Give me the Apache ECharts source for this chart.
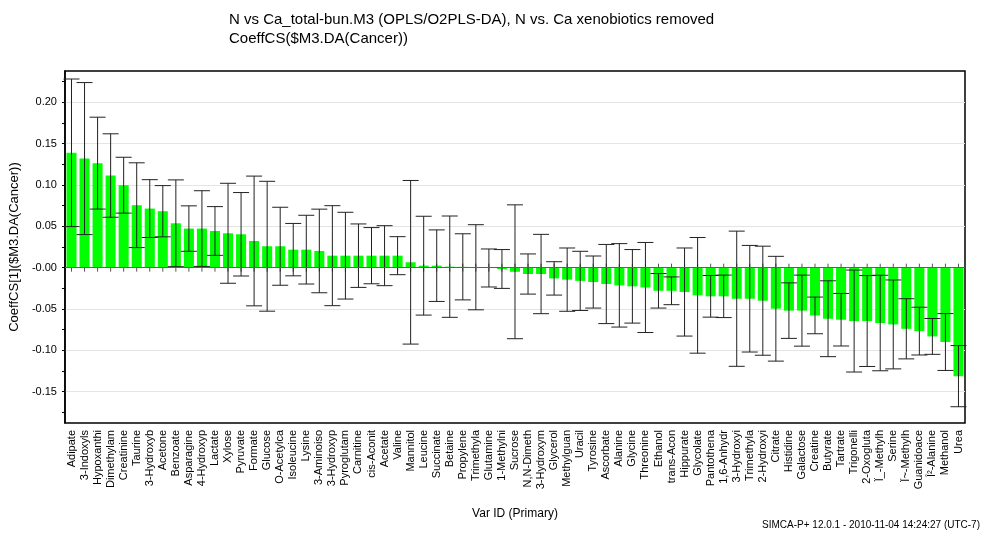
<!DOCTYPE html>
<html>
<head>
<meta charset="utf-8">
<script src="https://cdn.jsdelivr.net/npm/echarts@6/dist/echarts.min.js"></script>
<style>
  html, body { margin: 0; padding: 0; background: #fff; }
  #chart { width: 985px; height: 535px; }
</style>
</head>
<body>
<div id="chart"></div>
<script>
// Variable IDs (primary), sorted by coefficient
const varNames = [
  'Adipate', '3-Indoxyls', 'Hypoxanthi', 'Dimethylam', 'Creatinine', 'Taurine', '3-Hydroxyb', 'Acetone',
  'Benzoate', 'Asparagine', '4-Hydroxyp', 'Lactate', 'Xylose', 'Pyruvate', 'Formate', 'Glucose',
  'O-Acetylca', 'Isoleucine', 'Lysine', '3-Aminoiso', '3-Hydroxyp', 'Pyroglutam', 'Carnitine', 'cis-Aconit',
  'Acetate', 'Valine', 'Mannitol', 'Leucine', 'Succinate', 'Betaine', 'Propylene', 'Trimethyla',
  'Glutamine', '1-Methylni', 'Sucrose', 'N,N-Dimeth', '3-Hydroxym', 'Glycerol', 'Methylguan', 'Uracil',
  'Tyrosine', 'Ascorbate', 'Alanine', 'Glycine', 'Threonine', 'Ethanol', 'trans-Acon', 'Hippurate',
  'Glycolate', 'Pantothena', '1,6-Anhydr', '3-Hydroxyi', 'Trimethyla', '2-Hydroxyi', 'Citrate', 'Histidine',
  'Galactose', 'Creatine', 'Butyrate', 'Tartrate', 'Trigonelli', '2-Oxogluta', 'Ï_-Methylh', 'Serine',
  'Ï~-Methylh', 'Guanidoace', 'Î²-Alanine', 'Methanol', 'Urea'
];

// CoeffCS[1] for the Cancer class
const coeffCS = [
  0.139, 0.132, 0.1265, 0.1115, 0.0998, 0.0756, 0.0715, 0.0683, 0.0537, 0.0473,
  0.0473, 0.0444, 0.0416, 0.0404, 0.0323, 0.0259, 0.0259, 0.0218, 0.0218, 0.0202,
  0.0145, 0.0145, 0.0145, 0.0145, 0.0145, 0.0145, 0.0065, 0.0024, 0.0024, 0.0012,
  0.001, 0.0005, -0.0004, -0.0016, -0.005, -0.0077, -0.0077, -0.013, -0.0145, -0.016,
  -0.0174, -0.0198, -0.0214, -0.0226, -0.024, -0.028, -0.028, -0.0295, -0.0335, -0.0347,
  -0.0347, -0.0376, -0.0376, -0.040, -0.0497, -0.052, -0.052, -0.0578, -0.0618, -0.063,
  -0.0646, -0.0646, -0.067, -0.0687, -0.074, -0.0768, -0.0832, -0.090, -0.1313
];

// Confidence interval half-widths (jack-knifed)
const ciHalf = [
  0.0893, 0.092, 0.0556, 0.0505, 0.0338, 0.0513, 0.035, 0.031, 0.0525, 0.0275,
  0.0458, 0.0295, 0.0605, 0.0505, 0.0785, 0.0786, 0.0472, 0.0317, 0.0416, 0.0506,
  0.0605, 0.0525, 0.0384, 0.034, 0.0363, 0.023, 0.099, 0.0598, 0.0433, 0.0613,
  0.040, 0.0515, 0.023, 0.0235, 0.081, 0.0243, 0.048, 0.0202, 0.0383, 0.0358,
  0.0315, 0.0479, 0.0505, 0.0445, 0.0545, 0.0209, 0.0168, 0.0533, 0.070, 0.0252,
  0.0257, 0.0818, 0.0645, 0.066, 0.0634, 0.0336, 0.043, 0.0222, 0.0459, 0.0318,
  0.0617, 0.055, 0.0578, 0.0538, 0.0364, 0.0289, 0.0217, 0.0344, 0.037
];

// Y axis: tick marks, labelled ticks and grid lines
const yTickValues = [-0.175, -0.15, -0.125, -0.1, -0.075, -0.05, -0.025, 0, 0.025, 0.05, 0.075, 0.1, 0.125, 0.15, 0.175, 0.2, 0.225];
const yLabelValues = [-0.15, -0.1, -0.05, 0, 0.05, 0.1, 0.15, 0.2];
const yGridValues = [-0.15, -0.1, -0.05, 0, 0.05, 0.1, 0.15, 0.2];
const yMin = -0.188;
const yMax = 0.238;

const titleLines = 'N vs Ca_total-bun.M3 (OPLS/O2PLS-DA), N vs. Ca xenobiotics removed\nCoeffCS($M3.DA(Cancer))';
const footerText = 'SIMCA-P+ 12.0.1 - 2010-11-04 14:24:27 (UTC-7)';
const yName = 'CoeffCS[1]($M3.DA(Cancer))';
const xName = 'Var ID (Primary)';

const FONT = '"Liberation Sans", Arial, sans-serif';

const errData = coeffCS.map((v, i) => [i, v - ciHalf[i], v + ciHalf[i]]);
const tickData = coeffCS.map((v, i) => [i, 0]);

const chart = echarts.init(document.getElementById('chart'), null, { renderer: 'canvas' });

chart.setOption({
  animation: false,
  backgroundColor: '#ffffff',
  title: [
    {
      text: titleLines,
      left: 224,
      top: 5,
      textStyle: { fontFamily: FONT, fontSize: 15, fontWeight: 'normal', color: '#000', lineHeight: 19 }
    },
    {
      text: footerText,
      right: 0,
      bottom: 0,
      textStyle: { fontFamily: FONT, fontSize: 10, fontWeight: 'normal', color: '#000' }
    }
  ],
  grid: {
    left: 62, right: 20, top: 71, bottom: 112,
    show: true,
    borderColor: '#000',
    borderWidth: 1.5,
    backgroundColor: 'transparent'
  },
  xAxis: {
    type: 'category',
    data: varNames,
    name: xName,
    nameLocation: 'middle',
    nameGap: 85,
    nameTextStyle: { fontFamily: FONT, fontSize: 12, color: '#000' },
    axisLine: { show: false, onZero: false },
    axisTick: { show: false },
    splitLine: { show: false },
    axisLabel: {
      interval: 0,
      rotate: 90,
      margin: 7,
      fontFamily: FONT,
      fontSize: 11,
      color: '#000'
    }
  },
  yAxis: [
    {
      type: 'value',
      min: yMin,
      max: yMax,
      name: yName,
      nameLocation: 'middle',
      nameGap: 40,
      nameTextStyle: { fontFamily: FONT, fontSize: 13, color: '#000' },
      axisLine: { show: true, lineStyle: { color: '#000', width: 1.5 } },
      axisTick: { show: true, inside: false, length: 3, customValues: yTickValues, lineStyle: { color: '#000' } },
      axisLabel: {
        customValues: yLabelValues,
        margin: 8,
        fontFamily: FONT,
        fontSize: 11,
        color: '#000',
        formatter: v => (Math.abs(v) < 1e-9 ? '-0.00' : v.toFixed(2))
      },
      splitLine: { show: false }
    },
    {
      type: 'value',
      min: yMin,
      max: yMax,
      position: 'left',
      axisLine: { show: false },
      axisTick: { show: false, customValues: yGridValues },
      axisLabel: { show: false },
      splitLine: { show: true, lineStyle: { color: '#e4e4e4', width: 1 } }
    }
  ],
  series: [
    {
      // small category ticks along the zero line, beneath the bars
      type: 'custom',
      z: 1,
      yAxisIndex: 0,
      data: tickData,
      silent: true,
      renderItem: (params, api) => {
        const p = api.coord([api.value(0), 0]);
        return {
          type: 'line',
          shape: { x1: p[0], y1: p[1] - 4, x2: p[0], y2: p[1] + 4 },
          style: { stroke: '#555', lineWidth: 1 }
        };
      }
    },
    {
      type: 'bar',
      z: 2,
      yAxisIndex: 0,
      data: coeffCS,
      barCategoryGap: '23%',
      itemStyle: { color: '#00ff00' },
      silent: true,
      markLine: {
        silent: true,
        symbol: 'none',
        label: { show: false },
        lineStyle: { color: '#606060', width: 1, type: 'solid' },
        data: [{ yAxis: 0 }]
      }
    },
    {
      // confidence interval whiskers
      type: 'custom',
      z: 3,
      yAxisIndex: 0,
      data: errData,
      silent: true,
      clip: false,
      renderItem: (params, api) => {
        const x = api.value(0);
        const lo = api.coord([x, api.value(1)]);
        const hi = api.coord([x, api.value(2)]);
        const cap = 8;
        const style = { stroke: '#222', lineWidth: 1 };
        return {
          type: 'group',
          children: [
            { type: 'line', shape: { x1: hi[0], y1: hi[1], x2: lo[0], y2: lo[1] }, style },
            { type: 'line', shape: { x1: hi[0] - cap, y1: hi[1], x2: hi[0] + cap, y2: hi[1] }, style },
            { type: 'line', shape: { x1: lo[0] - cap, y1: lo[1], x2: lo[0] + cap, y2: lo[1] }, style }
          ]
        };
      }
    }
  ]
});
</script>
</body>
</html>
